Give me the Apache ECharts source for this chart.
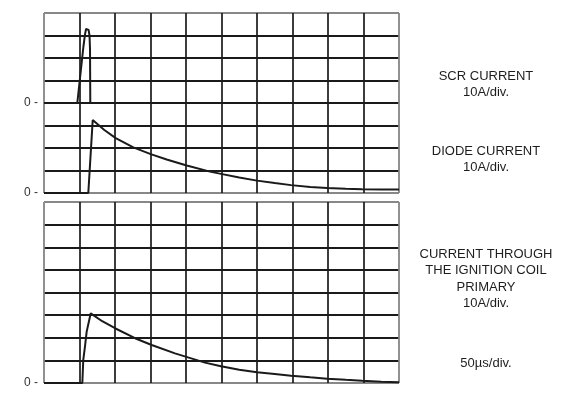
<!DOCTYPE html>
<html>
<head>
<meta charset="utf-8">
<script src="https://cdn.jsdelivr.net/npm/echarts@6/dist/echarts.min.js"></script>
<style>html,body{margin:0;padding:0;background:#fff;}#c{width:562px;height:396px;}</style>
</head>
<body>
<div id="c"></div>
<script>
// time in microseconds (50 µs/div), current in amperes (10 A/div)
const scrTime    = [0, 46.9, 50, 53.1, 55.5, 57.7, 59.2, 61, 62.8, 64.1, 64.8, 65.2];
const scrValues  = [0, 0, 9, 18.1, 25, 30.4, 32.9, 33.6, 32.5, 30, 24, 0];

const diodeTime   = [0, 62.4, 68.6, 85, 101, 125.8, 150.3, 172.8, 201, 233.8, 249.3, 275, 300, 325, 348, 375, 398.6, 425, 448, 475, 500];
const diodeValues = [0, 0, 32.4, 28.0, 24.4, 20.3, 17.3, 14.9, 12.2, 9.5, 8.5, 6.9, 5.5, 4.4, 3.5, 2.7, 2.2, 1.9, 1.7, 1.6, 1.6];

const coilTime   = [0, 54.0, 55.3, 57.7, 60.1, 65.8, 82, 100, 128.2, 151.7, 184.5, 226.8, 249.3, 275, 300, 325, 348, 375, 398.6, 425, 448, 475, 500];
const coilValues = [0, 0, 10.2, 16.1, 22.7, 30.8, 27.3, 24.2, 19.8, 16.8, 13.1, 9.0, 7.4, 5.9, 4.8, 4.0, 3.2, 2.5, 1.9, 1.4, 1.0, 0.6, 0.3];

const labelsRight = [
  {text: 'SCR CURRENT\n10A/div.', y: 63},
  {text: 'DIODE CURRENT\n10A/div.', y: 138},
  {text: 'CURRENT THROUGH\nTHE IGNITION COIL\nPRIMARY\n10A/div.', y: 241},
  {text: '50µs/div.', y: 350}
];

const pair = (t, v) => t.map((x, i) => [x, v[i]]);
const ink = '#1a1a1a';
const hColors = ['#888', ink, ink, ink, ink, ink, ink, ink, '#888'];
const vColors = ['#888', ink, ink, ink, ink, ink, ink, ink, ink, ink, '#888'];
const zeroLabel = {
  show: true, color: '#333', fontSize: 12, fontFamily: 'Liberation Sans, Arial, sans-serif',
  margin: 6, padding: [0, 0, 4, 0],
  formatter: v => (v === 0 ? '0 -' : '')
};

const chart = echarts.init(document.getElementById('c'), null, {renderer: 'canvas'});
chart.setOption({
  animation: false,
  backgroundColor: '#fff',
  title: labelsRight.map(l => ({
    text: l.text, left: 481, top: l.y, textAlign: 'center',
    textStyle: {fontSize: 13, fontWeight: 'normal', color: '#1e1e1e', lineHeight: 16.5,
      fontFamily: 'Liberation Sans, Arial, sans-serif'}
  })),
  grid: [
    {left: 44, top: 13, width: 355, height: 180, show: true, borderColor: '#888', borderWidth: 1},
    {left: 44, top: 202, width: 355, height: 181, show: true, borderColor: '#888', borderWidth: 1}
  ],
  xAxis: [0, 1].map(g => ({
    type: 'value', gridIndex: g, min: 0, max: 500, interval: 50,
    axisLine: {show: false}, axisTick: {show: false}, axisLabel: {show: false},
    splitLine: {show: true, lineStyle: {color: vColors, width: 1.7}}
  })),
  yAxis: [
    {type: 'value', gridIndex: 0, min: -40, max: 40, interval: 10,
      axisLine: {show: false}, axisTick: {show: false}, axisLabel: zeroLabel,
      splitLine: {show: true, lineStyle: {color: hColors, width: 2}}},
    {type: 'value', gridIndex: 0, min: 0, max: 80, interval: 10, position: 'left',
      axisLine: {show: false}, axisTick: {show: false}, axisLabel: zeroLabel,
      splitLine: {show: false}},
    {type: 'value', gridIndex: 1, min: 0, max: 80, interval: 10,
      axisLine: {show: false}, axisTick: {show: false}, axisLabel: zeroLabel,
      splitLine: {show: true, lineStyle: {color: hColors, width: 2}}}
  ],
  series: [
    {type: 'line', name: 'SCR current', xAxisIndex: 0, yAxisIndex: 0, data: pair(scrTime, scrValues),
      showSymbol: false, lineStyle: {color: ink, width: 2}, z: 5},
    {type: 'line', name: 'Diode current', xAxisIndex: 0, yAxisIndex: 1, data: pair(diodeTime, diodeValues),
      showSymbol: false, lineStyle: {color: ink, width: 2}, z: 5},
    {type: 'line', name: 'Coil primary current', xAxisIndex: 1, yAxisIndex: 2, data: pair(coilTime, coilValues),
      showSymbol: false, lineStyle: {color: ink, width: 2}, z: 5}
  ]
});
</script>
</body>
</html>
